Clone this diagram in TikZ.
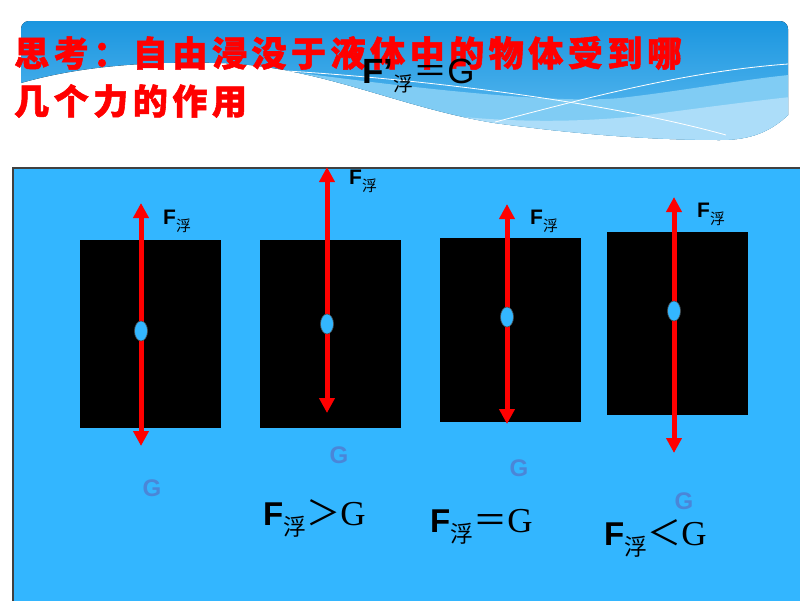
\documentclass[tikz,border=0pt]{standalone}
\usepackage{fontspec}
\setmainfont{Liberation Sans}
\newfontfamily\cjk{Noto Sans CJK SC}
\newfontfamily\titlefont[LetterSpace=13, BoldFeatures={FakeBold=1.5}]{Noto Sans CJK SC}
\newfontfamily\serifG{Liberation Serif}
\usepackage{xcolor}
\usetikzlibrary{arrows.meta, positioning, shapes.geometric}

\definecolor{water}{RGB}{51,182,255}
\definecolor{gblue}{RGB}{74,134,216}
\definecolor{deco1}{RGB}{14,143,220}
\definecolor{deco2}{RGB}{100,190,242}
\definecolor{band1}{RGB}{128,204,244}
\definecolor{band2}{RGB}{172,221,249}

% F with subscript
\newcommand{\Fu}[3]{{\fontsize{#1}{#1}\selectfont\bfseries F}\raisebox{#3}{\cjk\fontsize{#2}{#2}\selectfont 浮}}

\begin{document}
\begin{tikzpicture}[
  x=1pt, y=-1pt,
  title/.style={anchor=west, inner sep=0pt, text=red, font=\titlefont\bfseries\fontsize{35}{35}\selectfont},
  force/.style={draw=red, line width=5pt, -{Triangle[width=15pt,length=15pt]}},
  centre/.style={ellipse, draw=black!70, line width=0.6pt, fill=water, minimum width=13pt, minimum height=20pt, inner sep=0pt},
  rel/.style={anchor=base west, inner sep=0pt},
  glab/.style={text=gblue, inner sep=0pt, font=\fontsize{24}{24}\selectfont\bfseries}
]
\useasboundingbox (0,0) rectangle (800,600);
\fill[white] (0,0) rectangle (800,600);

% header band
\begin{scope}
  \clip (21,83) -- (21,29) arc[start angle=180, end angle=270, radius=8]
    -- (780,21) arc[start angle=270, end angle=360, radius=8]
    -- (788,115) .. controls (770,132) and (750,140) .. (720,140)
    .. controls (640,140) and (560,132) .. (495,123)
    .. controls (400,108) and (320,66) .. (220,63)
    .. controls (150,61) and (80,66) .. (21,83) -- cycle;
  \fill[top color=deco1, bottom color=deco2] (0,0) rectangle (800,145);
  \fill[band1] (250,66) .. controls (420,90) and (560,104) .. (620,98)
    .. controls (690,90) and (750,78) .. (800,74) -- (800,150) -- (250,150) -- cycle;
  \fill[band2] (420,112) .. controls (520,126) and (600,120) .. (640,116)
    .. controls (700,108) and (760,100) .. (800,96) -- (800,150) -- (420,150) -- cycle;
\end{scope}
\draw[white, line width=0.8pt] (250,69) .. controls (400,76) and (600,100) .. (726,135);
\draw[white, line width=0.8pt] (495,122) .. controls (580,100) and (680,72) .. (788,64);

% question
\node[title] (q1) at (14,53) {思考：自由浸没于液体中的物体受到哪};
\node[title] (q2) at (14,101) {几个力的作用};
\node[rel] (eq0) at (362,83) {{\fontsize{35}{35}\selectfont\bfseries F'}\raisebox{-8pt}{\cjk\fontsize{20}{20}\selectfont 浮}{\cjk\fontsize{34}{34}\selectfont ＝}{\fontsize{35}{35}\selectfont G}};

% liquid
\draw[black!75, line width=1.2pt, fill=water] (13,168) rectangle (802,602);

% blocks and forces
\foreach \n/\xl/\xr/\yt/\yb/\ax/\at/\ab/\ac in {
  1/80/221/240/428/141/203/446/331,
  2/260/401/240/428/327/167/413/324,
  3/440/581/238/422/507/204/424/317,
  4/607/748/232/415/674/197/453/311} {
  \fill[black] (\xl,\yt) rectangle (\xr,\yb);
  \coordinate (c\n) at (\ax,\ac);
  \coordinate (t\n) at (\ax,\at);
  \coordinate (d\n) at (\ax,\ab);
  \draw[force] (c\n) -- (t\n);
  \draw[force] (c\n) -- (d\n);
  \node[centre] (o\n) at (c\n) {};
}

% labels
\node[rel] (f1) at (163,224) {\Fu{21}{15}{-7pt}};
\node[rel] (f2) at (349,184) {\Fu{21}{15}{-7pt}};
\node[rel] (f3) at (530,224) {\Fu{21}{15}{-7pt}};
\node[rel] (f4) at (697,217) {\Fu{21}{15}{-7pt}};

\node[glab] (g1) at (152,488) {G};
\node[glab] (g2) at (339,455) {G};
\node[glab] (g3) at (519,468) {G};
\node[glab] (g4) at (684,501) {G};

% results
\node[rel] (e1) at (263,525) {\Fu{33}{23}{-10pt}{\cjk\fontsize{34}{34}\selectfont ＞}{\serifG\fontsize{35}{35}\selectfont G}};
\node[rel] (e2) at (430,532) {\Fu{33}{23}{-10pt}{\cjk\fontsize{34}{34}\selectfont ＝}{\serifG\fontsize{35}{35}\selectfont G}};
\node[rel] (e3) at (604,545) {\Fu{33}{23}{-10pt}{\cjk\fontsize{34}{34}\selectfont ＜}{\serifG\fontsize{35}{35}\selectfont G}};
\end{tikzpicture}
\end{document}
